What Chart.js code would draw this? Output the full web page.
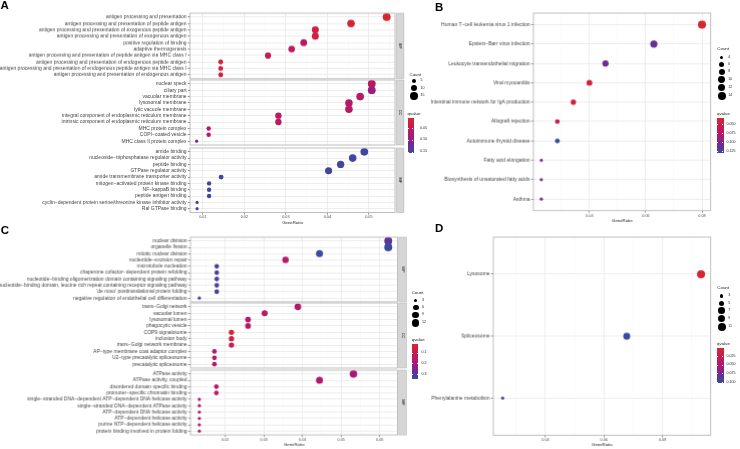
<!DOCTYPE html>
<html><head><meta charset="utf-8">
<script src="https://cdn.jsdelivr.net/npm/chart.js@4"></script>
<style>
html,body{margin:0;padding:0;background:#fff;width:740px;height:449px;overflow:hidden;font-family:'Liberation Sans',Arial,Helvetica,sans-serif;}
.box{position:absolute;}
.t{position:absolute;white-space:nowrap;color:#222;}
.dot{position:absolute;border-radius:50%;background:#000;}
</style></head><body>
<script>
const FONT = "'Liberation Sans', Arial, Helvetica, sans-serif";
const M = "\u2212";

// ---------------- Panel A (GO) ----------------
const aBpTerms = ["antigen processing and presentation","antigen processing and presentation of peptide antigen","antigen processing and presentation of exogenous peptide antigen","antigen processing and presentation of exogenous antigen","positive regulation of binding","adaptive thermogenesis","antigen processing and presentation of peptide antigen via MHC class I","antigen processing and presentation of endogenous peptide antigen","antigen processing and presentation of endogenous peptide antigen via MHC class I","antigen processing and presentation of endogenous antigen"];
const aBpRatio = [0.0543,0.0457,0.0371,0.0371,0.0343,0.0314,0.0257,0.0143,0.0143,0.0143];
const aBpCount = [19,16,13,13,12,11,9,5,5,5];
const aBpQ = [0.004,0.010,0.026,0.026,0.062,0.058,0.040,0.016,0.016,0.016];

const aCcTerms = ["nuclear speck","ciliary part","vacuolar membrane","lysosomal membrane","lytic vacuole membrane","integral component of endoplasmic reticulum membrane","intrinsic component of endoplasmic reticulum membrane","MHC protein complex","COPI"+M+"coated vesicle","MHC class II protein complex"];
const aCcRatio = [0.0507,0.0507,0.0479,0.0452,0.0452,0.0282,0.0282,0.0114,0.0114,0.0085];
const aCcCount = [18,18,17,16,16,10,10,4,4,3];
const aCcQ = [0.062,0.092,0.068,0.068,0.068,0.064,0.064,0.068,0.068,0.110];

const aMfTerms = ["amide binding","nucleoside"+M+"triphosphatase regulator activity","peptide binding","GTPase regulator activity","amide transmembrane transporter activity","mitogen"+M+"activated protein kinase binding","NF"+M+"kappaB binding","peptide antigen binding","cyclin"+M+"dependent protein serine/threonine kinase inhibitor activity","Ral GTPase binding"];
const aMfRatio = [0.0489,0.0461,0.0432,0.0403,0.0144,0.0115,0.0115,0.0115,0.0086,0.0086];
const aMfCount = [17,16,15,14,5,4,4,4,3,3];
const aMfQ = [0.150,0.150,0.150,0.150,0.150,0.152,0.152,0.152,0.155,0.155];

const aXLim = [0.0069, 0.0563];
const aXMajor = [0.01,0.02,0.03,0.04,0.05];
const aXLabels = ["0.01","0.02","0.03","0.04","0.05"];
const aXMinor = [0.015,0.025,0.035,0.045,0.055];
const aCountBreaks = [5,10,15];
const aQBreaks = [0.05,0.10,0.15];
const aQLabels = ["0.05","0.10","0.15"];

// ---------------- Panel B (KEGG) ----------------
const bTerms = ["Human T"+M+"cell leukemia virus 1 infection","Epstein"+M+"Barr virus infection","Leukocyte transendothelial migration","Viral myocarditis","Intestinal immune network for IgA production","Allograft rejection","Autoimmune thyroid disease","Fatty acid elongation","Biosynthesis of unsaturated fatty acids","Asthma"];
const bRatio = [0.0800,0.0629,0.0457,0.0400,0.0343,0.0286,0.0286,0.0229,0.0229,0.0229];
const bCount = [14,11,8,7,6,5,5,4,4,4];
const bQ = [0.033,0.110,0.105,0.040,0.045,0.060,0.130,0.105,0.105,0.107];
const bXLim = [0.0201, 0.0831];
const bXMajor = [0.04,0.06,0.08];
const bXLabels = ["0.04","0.06","0.08"];
const bXMinor = [0.03,0.05,0.07];
const bCountBreaks = [4,6,8,10,12,14];
const bQBreaks = [0.050,0.075,0.100,0.125];
const bQLabels = ["0.050","0.075","0.100","0.125"];

// ---------------- Panel C (GO) ----------------
const cBpTerms = ["nuclear division","organelle fission","mitotic nuclear division","nucleotide"+M+"excision repair","microtubule nucleation","chaperone cofactor"+M+"dependent protein refolding","nucleotide"+M+"binding oligomerization domain containing signaling pathway","nucleotide"+M+"binding domain, leucine rich repeat containing receptor signaling pathway","'de novo' posttranslational protein folding","negative regulation of endothelial cell differentiation"];
const cBpRatio = [0.0622,0.0622,0.0444,0.0356,0.0178,0.0178,0.0178,0.0178,0.0178,0.0133];
const cBpCount = [14,14,10,8,4,4,4,4,4,3];
const cBpQ = [0.29,0.34,0.33,0.16,0.31,0.31,0.31,0.31,0.31,0.30];

const cCcTerms = ["trans"+M+"Golgi network","vacuolar lumen","lysosomal lumen","phagocytic vesicle","COP9 signalosome","inclusion body","trans"+M+"Golgi network membrane","AP"+M+"type membrane coat adaptor complex","U2"+M+"type precatalytic spliceosome","precatalytic spliceosome"];
const cCcRatio = [0.0388,0.0302,0.0259,0.0259,0.0216,0.0216,0.0216,0.0172,0.0172,0.0172];
const cCcCount = [9,7,6,6,5,5,5,4,4,4];
const cCcQ = [0.16,0.14,0.15,0.15,0.02,0.08,0.085,0.17,0.17,0.17];

const cMfTerms = ["ATPase activity","ATPase activity, coupled","disordered domain specific binding","promoter"+M+"specific chromatin binding","single"+M+"stranded DNA"+M+"dependent ATP"+M+"dependent DNA helicase activity","single"+M+"stranded DNA"+M+"dependent ATPase activity","ATP"+M+"dependent DNA helicase activity","ATP"+M+"dependent helicase activity","purine NTP"+M+"dependent helicase activity","protein binding involved in protein folding"];
const cMfRatio = [0.0532,0.0444,0.0177,0.0177,0.0133,0.0133,0.0133,0.0133,0.0133,0.0133];
const cMfCount = [12,10,4,4,3,3,3,3,3,3];
const cMfQ = [0.185,0.17,0.17,0.17,0.175,0.175,0.175,0.175,0.175,0.175];

const cXLim = [0.0110, 0.0646];
const cXMajor = [0.02,0.03,0.04,0.05,0.06];
const cXLabels = ["0.02","0.03","0.04","0.05","0.06"];
const cXMinor = [0.015,0.025,0.035,0.045,0.055];
const cCountBreaks = [3,6,9,12];
const cQBreaks = [0.1,0.2,0.3];
const cQLabels = ["0.1","0.2","0.3"];

// ---------------- Panel D (KEGG) ----------------
const dTerms = ["Lysosome","Spliceosome","Phenylalanine metabolism"];
const dRatio = [0.0932,0.0678,0.0254];
const dCount = [11,8,3];
const dQ = [0.0005,0.103,0.100];
const dXLim = [0.0222, 0.0965];
const dXMajor = [0.04,0.06,0.08];
const dXLabels = ["0.04","0.06","0.08"];
const dXMinor = [0.03,0.05,0.07,0.09];
const dCountBreaks = [3,5,7,9,11];
const dQBreaks = [0.025,0.050,0.075,0.100];
const dQLabels = ["0.025","0.050","0.075","0.100"];

// ---------------- scales ----------------
const GRAD = [[0,[214,38,50]],[0.35,[192,24,92]],[0.55,[166,26,122]],[0.75,[112,42,146]],[1,[58,74,160]]];
function gradColor(t){
  t = Math.max(0, Math.min(1, t));
  for (let i = 1; i < GRAD.length; i++) {
    if (t <= GRAD[i][0]) {
      const [t0,c0] = GRAD[i-1], [t1,c1] = GRAD[i];
      const f = (t - t0) / (t1 - t0);
      return 'rgb(' + c0.map((v,k)=>Math.round(v + (c1[k]-v)*f)).join(',') + ')';
    }
  }
  return 'rgb(' + GRAD[GRAD.length-1][1].join(',') + ')';
}
function sizeScale(counts){
  const lo = Math.min(...counts), hi = Math.max(...counts);
  return c => 1.6 + 2.4 * Math.sqrt(Math.max(0,(c - lo)) / (hi - lo));
}
function qRange(qs){ return [Math.min(...qs), Math.max(...qs)]; }

// ---------------- plugin: frame + strip ----------------
const framePlugin = {
  id: 'frame',
  afterDraw(chart, args, opts) {
    const {ctx, chartArea: a} = chart;
    ctx.save();
    ctx.strokeStyle = '#b8b8b8';
    ctx.lineWidth = 0.9;
    ctx.strokeRect(a.left, a.top, a.right - a.left, a.bottom - a.top);
    if (opts && opts.strip) {
      const x0 = a.right + 1.3, w = 7.6;
      ctx.fillStyle = '#d6d6d6';
      ctx.fillRect(x0, a.top, w, a.bottom - a.top);
      ctx.strokeStyle = '#b0b0b0';
      ctx.lineWidth = 0.5;
      ctx.strokeRect(x0, a.top, w, a.bottom - a.top);
      ctx.translate(x0 + w / 2, (a.top + a.bottom) / 2);
      ctx.rotate(Math.PI / 2);
      ctx.fillStyle = '#1a1a1a';
      ctx.font = '3.9px ' + FONT;
      ctx.textAlign = 'center';
      ctx.textBaseline = 'middle';
      ctx.fillText(opts.strip, 0, 0);
    }
    ctx.restore();
  }
};

function facet(p) {
  const PAD = 12;
  const XH = p.showX ? 12.6 : 0;
  const wrap = document.createElement('div');
  wrap.className = 'box';
  wrap.style.left = (p.l - p.yw) + 'px';
  wrap.style.top = (p.t - PAD) + 'px';
  wrap.style.width = (p.yw + (p.r - p.l) + PAD) + 'px';
  wrap.style.height = (PAD + (p.b - p.t) + XH + PAD) + 'px';
  const cv = document.createElement('canvas');
  wrap.appendChild(cv);
  document.body.appendChild(wrap);
  const n = p.terms.length;
  const xt = p.xMajor.map((v,i)=>({value:v, isMajor:true, lab:p.xLabels[i]}))
    .concat(p.xMinor.map(v=>({value:v, isMajor:false, lab:''})))
    .filter(o => o.value >= p.xLim[0] && o.value <= p.xLim[1])
    .sort((a,b)=>a.value-b.value);
  new Chart(cv, {
    type: 'scatter',
    data: { datasets: [{
      data: p.terms.map((t,i)=>({x: p.ratio[i], y: i})),
      pointRadius: c => p.size(p.count[c.dataIndex]),
      pointHoverRadius: c => p.size(p.count[c.dataIndex]),
      pointBackgroundColor: c => p.color(p.q[c.dataIndex]),
      pointBorderWidth: 0,
      showLine: false
    }]},
    options: {
      responsive: true, maintainAspectRatio: false, animation: false, events: [],
      layout: { padding: { left: 0, top: PAD, right: PAD, bottom: PAD } },
      plugins: { legend: {display:false}, tooltip: {enabled:false}, frame: { strip: p.strip || null } },
      scales: {
        x: {
          type: 'linear', min: p.xLim[0], max: p.xLim[1], bounds: 'data',
          border: { display: false },
          afterBuildTicks: s => { s.ticks = xt.map(o => ({value:o.value, isMajor:o.isMajor, lab:o.lab})); },
          afterFit: s => { s.height = XH; },
          grid: {
            color: c => (c.tick && c.tick.isMajor) ? '#e9e9e9' : '#f4f4f4',
            lineWidth: c => (c.tick && c.tick.isMajor) ? 0.8 : 0.5,
            drawTicks: !!p.showX, tickLength: 2,
            tickColor: c => (c.tick && c.tick.isMajor) ? '#444' : 'rgba(0,0,0,0)',
            tickWidth: 0.6
          },
          ticks: {
            display: !!p.showX, autoSkip: false, maxRotation: 0, minRotation: 0, padding: 0.5,
            font: { size: 3.8, family: FONT }, color: '#4d4d4d',
            callback: (v, i, ticks) => ticks[i] && ticks[i].lab ? ticks[i].lab : ''
          },
          title: { display: !!p.showX, text: 'GeneRatio', font: { size: 4.3, family: FONT }, color: '#222', padding: 0 }
        },
        y: {
          type: 'linear', min: -0.6, max: n - 0.4, reverse: true, bounds: 'data',
          border: { display: false },
          afterBuildTicks: s => { s.ticks = p.terms.map((_, i) => ({value: i})); },
          afterFit: s => { s.width = p.yw; },
          grid: { color: '#e9e9e9', lineWidth: 0.8, tickLength: 2.2, tickColor: '#444', tickWidth: 0.6 },
          ticks: { autoSkip: false, padding: 1.2, font: { size: 5, family: FONT }, color: '#444',
            callback: v => p.terms[v] }
        }
      }
    },
    plugins: [framePlugin]
  });
}

// ---------------- HTML helpers ----------------
function txt(s, x, yc, size, opts) {
  const d = document.createElement('div');
  d.className = 't';
  d.textContent = s;
  d.style.fontSize = size + 'px';
  d.style.lineHeight = size + 'px';
  d.style.left = x + 'px';
  d.style.top = (yc - 0.49 * size) + 'px';
  if (opts && opts.bold) d.style.fontWeight = 'bold';
  if (opts && opts.color) d.style.color = opts.color;
  document.body.appendChild(d);
  return d;
}
function dot(cx, cy, r) {
  const d = document.createElement('div');
  d.className = 'dot';
  d.style.left = (cx - r) + 'px'; d.style.top = (cy - r) + 'px';
  d.style.width = (2*r) + 'px'; d.style.height = (2*r) + 'px';
  document.body.appendChild(d);
}
function sizeLegend(c) {
  txt('Count', c.titleX, c.titleY, 4.4);
  let y = c.yFirst, prevH = null;
  c.breaks.forEach((v, i) => {
    const r = c.size(v);
    const h = Math.max(7.3, 2*r + 0.8);
    if (i > 0) y += (prevH + h) / 2;
    prevH = h;
    dot(c.dotX, y, r);
    txt(String(v), c.labelX, y, 3.6);
  });
}
function colorLegend(c) {
  txt('qvalue', c.titleX, c.titleY, 4.4);
  const bar = document.createElement('div');
  bar.className = 'box';
  bar.style.left = c.barX + 'px'; bar.style.top = c.barY + 'px';
  bar.style.width = c.barW + 'px'; bar.style.height = c.barH + 'px';
  const stops = [];
  for (let i = 0; i <= 20; i++) stops.push(gradColor(i/20) + ' ' + (i*5) + '%');
  bar.style.background = 'linear-gradient(to bottom,' + stops.join(',') + ')';
  document.body.appendChild(bar);
  const [lo, hi] = c.range;
  c.breaks.forEach((q, i) => {
    const y = c.barY + (q - lo) / (hi - lo) * c.barH;
    [c.barX, c.barX + c.barW - 1.3].forEach(x => {
      const tk = document.createElement('div');
      tk.className = 'box';
      tk.style.left = x + 'px'; tk.style.top = (y - 0.25) + 'px';
      tk.style.width = '1.3px'; tk.style.height = '0.5px'; tk.style.background = '#fff';
      document.body.appendChild(tk);
    });
    txt(c.labels[i], c.labelX, y, 3.6);
  });
}

// ---------------- build ----------------
const aSize = sizeScale([...aBpCount, ...aCcCount, ...aMfCount]);
const aQR = qRange([...aBpQ, ...aCcQ, ...aMfQ]);
const aColor = q => gradColor((q - aQR[0]) / (aQR[1] - aQR[0]));
const aCommon = { l: 190, r: 395, yw: 190, xLim: aXLim, xMajor: aXMajor, xLabels: aXLabels, xMinor: aXMinor, size: aSize, color: aColor };
facet(Object.assign({}, aCommon, { t: 13, b: 77.8, terms: aBpTerms, ratio: aBpRatio, count: aBpCount, q: aBpQ, strip: 'BP' }));
facet(Object.assign({}, aCommon, { t: 80, b: 145, terms: aCcTerms, ratio: aCcRatio, count: aCcCount, q: aCcQ, strip: 'CC' }));
facet(Object.assign({}, aCommon, { t: 147.5, b: 212, terms: aMfTerms, ratio: aMfRatio, count: aMfCount, q: aMfQ, strip: 'MF', showX: true }));

const bSize = sizeScale(bCount);
const bQR = qRange(bQ);
const bColor = q => gradColor((q - bQR[0]) / (bQR[1] - bQR[0]));
facet({ l: 533.3, r: 710, t: 13.3, b: 210, yw: 140, xLim: bXLim, xMajor: bXMajor, xLabels: bXLabels, xMinor: bXMinor, size: bSize, color: bColor, terms: bTerms, ratio: bRatio, count: bCount, q: bQ, showX: true });

const cSize = sizeScale([...cBpCount, ...cCcCount, ...cMfCount]);
const cQR = qRange([...cBpQ, ...cCcQ, ...cMfQ]);
const cColor = q => gradColor((q - cQR[0]) / (cQR[1] - cQR[0]));
const cCommon = { l: 190, r: 396.5, yw: 190, xLim: cXLim, xMajor: cXMajor, xLabels: cXLabels, xMinor: cXMinor, size: cSize, color: cColor };
facet(Object.assign({}, cCommon, { t: 236.7, b: 300.6, terms: cBpTerms, ratio: cBpRatio, count: cBpCount, q: cBpQ, strip: 'BP' }));
facet(Object.assign({}, cCommon, { t: 302.6, b: 367.6, terms: cCcTerms, ratio: cCcRatio, count: cCcCount, q: cCcQ, strip: 'CC' }));
facet(Object.assign({}, cCommon, { t: 369.9, b: 434, terms: cMfTerms, ratio: cMfRatio, count: cMfCount, q: cMfQ, strip: 'MF', showX: true }));

const dSize = sizeScale(dCount);
const dQR = qRange(dQ);
const dColor = q => gradColor((q - dQR[0]) / (dQR[1] - dQR[0]));
facet({ l: 493.3, r: 710, t: 236.7, b: 434, yw: 100, xLim: dXLim, xMajor: dXMajor, xLabels: dXLabels, xMinor: dXMinor, size: dSize, color: dColor, terms: dTerms, ratio: dRatio, count: dCount, q: dQ, showX: true });

// legends
sizeLegend({ titleX: 409.5, titleY: 75, yFirst: 81, dotX: 414, labelX: 420.5, breaks: aCountBreaks, size: aSize });
colorLegend({ titleX: 407.5, titleY: 114, barX: 407.5, barY: 118, barW: 6, barH: 35, labelX: 420, breaks: aQBreaks, labels: aQLabels, range: aQR });
sizeLegend({ titleX: 717.3, titleY: 49.3, yFirst: 57.3, dotX: 721.7, labelX: 728.3, breaks: bCountBreaks, size: bSize });
colorLegend({ titleX: 717, titleY: 114.3, barX: 717, barY: 118.3, barW: 6.5, barH: 35, labelX: 726.5, breaks: bQBreaks, labels: bQLabels, range: bQR });
sizeLegend({ titleX: 411.7, titleY: 292.7, yFirst: 300.3, dotX: 415.7, labelX: 422, breaks: cCountBreaks, size: cSize });
colorLegend({ titleX: 411.7, titleY: 340, barX: 411.7, barY: 344, barW: 6.5, barH: 35, labelX: 421.5, breaks: cQBreaks, labels: cQLabels, range: cQR });
sizeLegend({ titleX: 717.3, titleY: 288.3, yFirst: 296, dotX: 721.7, labelX: 728.3, breaks: dCountBreaks, size: dSize });
colorLegend({ titleX: 717, titleY: 344, barX: 717, barY: 348.3, barW: 6.5, barH: 35, labelX: 726.5, breaks: dQBreaks, labels: dQLabels, range: dQR });

// panel letters
txt('A', 0.5, 5.6, 11.5, { bold: true, color: '#000' });
txt('B', 435, 7.4, 11.5, { bold: true, color: '#000' });
txt('C', 0.7, 230.5, 11.5, { bold: true, color: '#000' });
txt('D', 435, 228.6, 11.5, { bold: true, color: '#000' });
</script>
</body></html>
